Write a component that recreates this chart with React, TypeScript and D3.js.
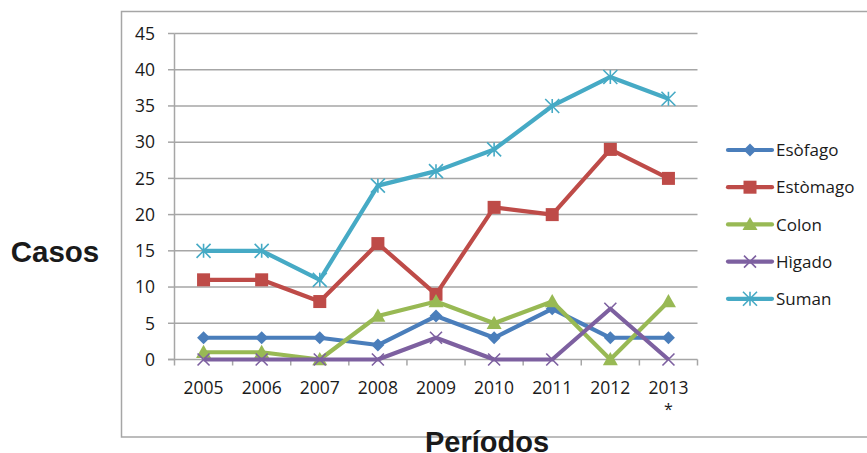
import React from "react";
import * as d3 from "d3";

const years = ["2005", "2006", "2007", "2008", "2009", "2010", "2011", "2012", "2013"];
const esofago = [3, 3, 3, 2, 6, 3, 7, 3, 3];
const estomago = [11, 11, 8, 16, 9, 21, 20, 29, 25];
const colon = [1, 1, 0, 6, 8, 5, 8, 0, 8];
const higado = [0, 0, 0, 0, 3, 0, 0, 7, 0];
const suman = [15, 15, 11, 24, 26, 29, 35, 39, 36];
const yTicks = [0, 5, 10, 15, 20, 25, 30, 35, 40, 45];

const series = [
  { name: "Esòfago", values: esofago, color: "#4A7EBB", marker: "diamond" },
  { name: "Estòmago", values: estomago, color: "#BE4B48", marker: "square" },
  { name: "Colon", values: colon, color: "#98B954", marker: "triangle" },
  { name: "Hìgado", values: higado, color: "#7D60A0", marker: "x" },
  { name: "Suman", values: suman, color: "#46AAC5", marker: "star" },
];

const W = 867;
const H = 453;
const tickFont = "'Open Sans', sans-serif";

function Marker({ type, x, y, color }: { type: string; x: number; y: number; color: string }) {
  if (type === "diamond") {
    const r = 6.5;
    return <path d={`M${x},${y - r}L${x + r},${y}L${x},${y + r}L${x - r},${y}Z`} fill={color} />;
  }
  if (type === "square") {
    const r = 6.5;
    return <rect x={x - r} y={y - r} width={2 * r} height={2 * r} fill={color} />;
  }
  if (type === "triangle") {
    const r = 7.5;
    return <path d={`M${x},${y - r}L${x + r},${y + r * 0.75}L${x - r},${y + r * 0.75}Z`} fill={color} />;
  }
  if (type === "x") {
    const r = 6;
    return (
      <path d={`M${x - r},${y - r}L${x + r},${y + r}M${x - r},${y + r}L${x + r},${y - r}`} stroke={color} strokeWidth={1.6} />
    );
  }
  const r = 7;
  return (
    <path
      d={`M${x - r},${y - r}L${x + r},${y + r}M${x - r},${y + r}L${x + r},${y - r}M${x},${y - r}L${x},${y + r}`}
      stroke={color}
      strokeWidth={1.6}
    />
  );
}

export default function App() {
  const x = d3.scaleBand<string>().domain(years).range([174.5, 697.5]).padding(0);
  const y = d3.scaleLinear().domain([0, 45]).range([359.5, 33.5]);
  const cx = (d: string) => (x(d) as number) + x.bandwidth() / 2;
  const line = d3
    .line<number>()
    .x((_, i) => cx(years[i]))
    .y((v) => y(v));

  const boundaries = years.map((d) => x(d) as number).concat([x.range()[1]]);

  return (
    <svg
      width={W}
      height={H}
      style={{ position: "absolute", left: 0, top: 0, background: "#fff" }}
      fontFamily={tickFont}
    >
      <rect x={121.5} y={11.5} width={W} height={425.5} fill="none" stroke="#a6a6a6" strokeWidth={1.5} />
      {yTicks.map((t) => (
        <g key={t}>
          {t > 0 && <line x1={174.5} x2={697.5} y1={y(t)} y2={y(t)} stroke="#a6a6a6" strokeWidth={1.5} />}
          <line x1={168} x2={174.5} y1={y(t)} y2={y(t)} stroke="#a6a6a6" strokeWidth={1.5} />
          <text x={155} y={y(t)} dy="0.36em" textAnchor="end" fontSize={17.5} fill="#1a1a1a">
            {t}
          </text>
        </g>
      ))}
      <line x1={174.5} x2={174.5} y1={33.5} y2={359.5} stroke="#a6a6a6" strokeWidth={1.5} />
      <line x1={168} x2={697.5} y1={359.5} y2={359.5} stroke="#a6a6a6" strokeWidth={1.5} />
      {boundaries.map((b, i) => (
        <line key={i} x1={b} x2={b} y1={359.5} y2={365.5} stroke="#a6a6a6" strokeWidth={1.5} />
      ))}
      {years.map((d) => (
        <text key={d} x={cx(d)} y={388} dy="0.36em" textAnchor="middle" fontSize={17.5} fill="#1a1a1a">
          {d}
        </text>
      ))}
      <text x={cx("2013")} y={415} textAnchor="middle" fontSize={16} fill="#1a1a1a">
        *
      </text>
      {series.map((s) => (
        <g key={s.name}>
          <path d={line(s.values) || ""} fill="none" stroke={s.color} strokeWidth={4.2} strokeLinejoin="round" />
          {s.values.map((v, i) => (
            <Marker key={i} type={s.marker} x={cx(years[i])} y={y(v)} color={s.color} />
          ))}
        </g>
      ))}
      {series.map((s, i) => {
        const ly = 150 + i * 37.2;
        return (
          <g key={s.name}>
            <line x1={728} x2={772} y1={ly} y2={ly} stroke={s.color} strokeWidth={4.2} strokeLinecap="round" />
            <Marker type={s.marker} x={750} y={ly} color={s.color} />
            <text x={776} y={ly} dy="0.36em" fontSize={17} fill="#1a1a1a">
              {s.name}
            </text>
          </g>
        );
      })}
      <text
        x={55}
        y={262}
        textAnchor="middle"
        fontFamily="'Liberation Sans', Arial, sans-serif"
        fontWeight="bold"
        fontSize={29.5}
        fill="#1a1a1a"
      >
        Casos
      </text>
      <text
        x={487}
        y={452}
        textAnchor="middle"
        fontFamily="'Liberation Sans', Arial, sans-serif"
        fontWeight="bold"
        fontSize={29}
        fill="#1a1a1a"
      >
        Períodos
      </text>
    </svg>
  );
}
